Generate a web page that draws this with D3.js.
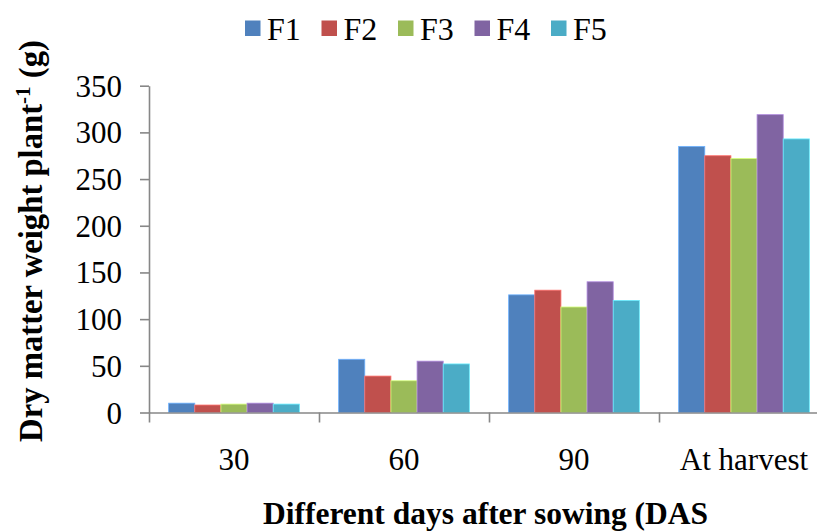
<!DOCTYPE html>
<html>
<head>
<meta charset="utf-8">
<script src="https://cdn.jsdelivr.net/npm/d3@7"></script>
<style>
  html, body { margin: 0; padding: 0; background: #fff; }
  svg { display: block; }
  text { font-family: "Liberation Serif", "Times New Roman", serif; fill: #000; }
</style>
</head>
<body>
<svg id="chart" width="817" height="531"></svg>
<script>
// ---- data ----
const categories = ["30", "60", "90", "At harvest"];
const seriesNames = ["F1", "F2", "F3", "F4", "F5"];
const F1 = [10, 57, 126, 285];
const F2 = [8, 39, 131, 275];
const F3 = [9, 34, 113, 272];
const F4 = [10, 55, 140, 319];
const F5 = [9, 52, 120, 293];
const yTicks = [0, 50, 100, 150, 200, 250, 300, 350];
const colors = ["#4F81BD", "#C0504D", "#9BBB59", "#8064A2", "#4BACC6"];

const seriesValues = [F1, F2, F3, F4, F5];
const table = categories.map((c, i) => {
  const row = { category: c };
  seriesNames.forEach((s, j) => row[s] = seriesValues[j][i]);
  return row;
});

// ---- layout ----
const svg = d3.select("#chart");
const plotLeft = 149, plotRight = 829, plotTop = 85.7, plotBottom = 412.5;
const axisColor = "#878787";
const serif = '"Liberation Serif", "Times New Roman", serif';

const y = d3.scaleLinear().domain([0, 350]).range([plotBottom, plotTop]);
const x0 = d3.scaleBand().domain(categories).range([plotLeft, plotRight])
  .paddingInner(0.231).paddingOuter(0.1155);
const x1 = d3.scaleBand().domain(seriesNames).range([0, x0.bandwidth()]).padding(0);
const color = d3.scaleOrdinal().domain(seriesNames).range(colors);

svg.append("rect").attr("width", 817).attr("height", 531).attr("fill", "#fff");

// bars
const groups = svg.append("g").selectAll("g").data(table).join("g")
  .attr("transform", d => `translate(${x0(d.category)},0)`);
groups.selectAll("rect")
  .data(d => seriesNames.map(s => ({ key: s, value: d[s] })))
  .join("rect")
  .attr("x", d => x1(d.key))
  .attr("width", x1.bandwidth())
  .attr("y", d => y(d.value))
  .attr("height", d => y(0) - y(d.value))
  .attr("fill", d => color(d.key))
  .attr("stroke", d => d3.color(color(d.key)).brighter(0.9))
  .attr("stroke-width", 0.8);

// y axis
const yAxis = svg.append("g").attr("transform", `translate(${plotLeft},0)`)
  .call(d3.axisLeft(y).tickValues(yTicks).tickSize(9).tickSizeOuter(0).tickPadding(18));
yAxis.attr("font-family", serif);
yAxis.selectAll("path, line").attr("stroke", axisColor).attr("stroke-width", 1.6);
yAxis.selectAll("text").attr("font-size", 31).attr("dy", "0.34em");

// x axis boundaries
const xb = d3.scaleLinear().domain([0, categories.length]).range([plotLeft, plotRight]);
const xAxisB = svg.append("g").attr("transform", `translate(0,${plotBottom})`)
  .call(d3.axisBottom(xb).tickValues(d3.range(categories.length + 1)).tickFormat("").tickSize(10).tickSizeOuter(0));
xAxisB.selectAll("path, line").attr("stroke", axisColor).attr("stroke-width", 1.6);

// x labels
const xAxisL = svg.append("g").attr("transform", `translate(0,${plotBottom})`)
  .call(d3.axisBottom(x0).tickSize(0).tickPadding(0));
xAxisL.attr("font-family", serif);
xAxisL.select("path").remove();
xAxisL.selectAll("text").attr("font-size", 31).attr("y", 57.5).attr("dy", 0);

// legend
const legend = svg.append("g");
const items = legend.selectAll("g").data(seriesNames).join("g")
  .attr("transform", (d, i) => `translate(${245 + i * 76.5},0)`);
items.append("rect").attr("x", 0).attr("y", 20.5).attr("width", 15.5).attr("height", 15.5)
  .attr("fill", d => color(d));
items.append("text").attr("x", 22).attr("y", 40).attr("font-size", 32).text(d => d);

// x title
svg.append("text").attr("x", 263).attr("y", 523.5).attr("font-size", 31.5)
  .attr("font-weight", "bold").text("Different days after sowing (DAS");

// y title
const yt = svg.append("text").attr("transform", "translate(42,241) rotate(-90)")
  .attr("text-anchor", "middle").attr("font-size", 32.7).attr("font-weight", "bold");
yt.append("tspan").text("Dry matter weight plant");
yt.append("tspan").attr("font-size", 21).attr("dy", -12).text("-1");
yt.append("tspan").attr("dy", 12).text(" (g)");
</script>
</body>
</html>
